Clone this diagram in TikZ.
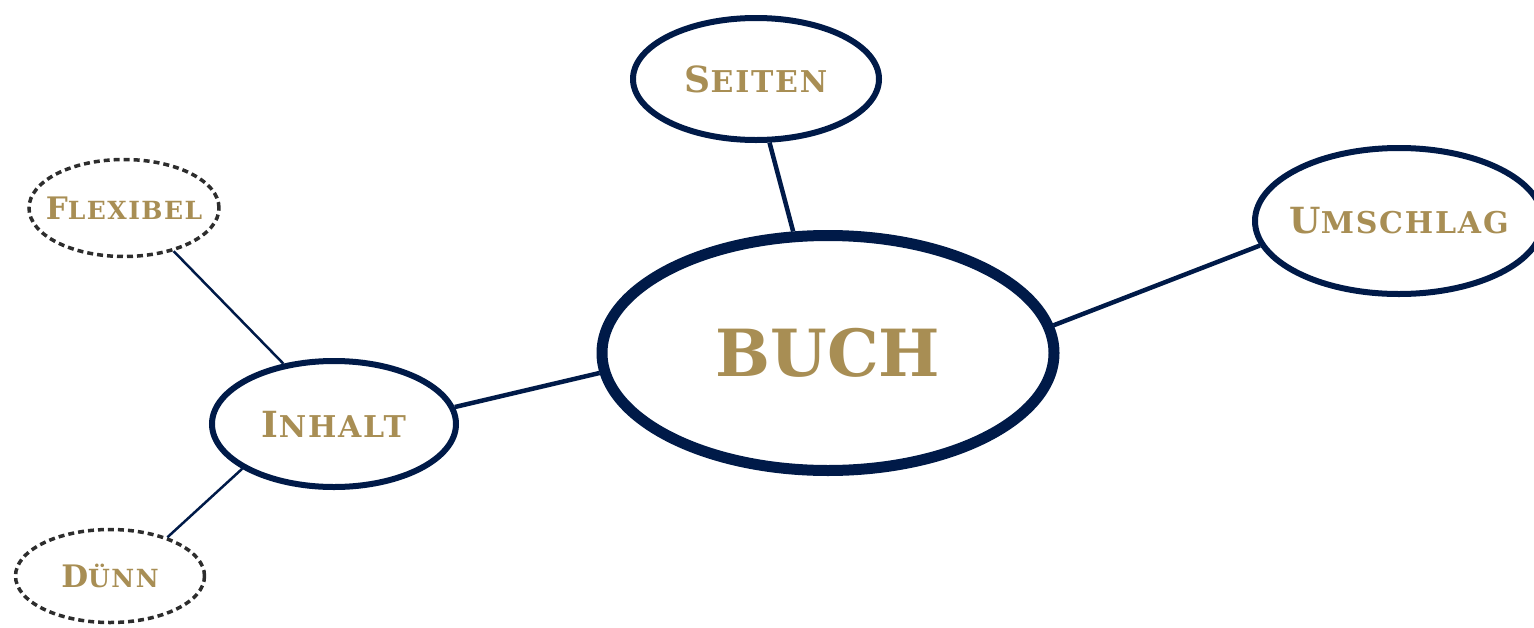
\documentclass[tikz,border=0pt]{standalone}
\usepackage{fontspec}
\usetikzlibrary{shapes.geometric}
\newfontfamily\labelserif{DejaVu Serif Bold}
\newfontfamily\spacedserif{DejaVu Serif Bold}[LetterSpace=6]
\definecolor{navy}{RGB}{0,26,72}
\definecolor{gold}{RGB}{168,142,84}
\definecolor{dashgray}{RGB}{45,45,45}
% first letter at full size, the rest as smaller, slightly spaced capitals
\newcommand\lowcaps{}
% label text takes no width, so each ellipse keeps its own size
\newcommand\nowidth[1]{\makebox[0pt][c]{#1}}
\tikzset{
  hub/.style={ellipse, draw=navy, line width=11pt, inner sep=0pt,
    minimum width=452pt, minimum height=235pt, text=gold,
    font=\labelserif\fontsize{65}{65}\selectfont},
  topic/.style={ellipse, draw=navy, line width=6pt, inner sep=0pt,
    text=gold, font=\labelserif\fontsize{36}{36}\selectfont
      \renewcommand\lowcaps{\spacedserif\fontsize{30}{30}\selectfont}},
  leaf/.style={ellipse, draw=dashgray, line width=3.5pt, inner sep=0pt,
    dash pattern=on 6pt off 4pt, text=gold,
    font=\labelserif\fontsize{31}{31}\selectfont
      \renewcommand\lowcaps{\spacedserif\fontsize{25}{25}\selectfont}},
  trunk/.style={draw=navy, line width=4.5pt},
  twig/.style={draw=navy, line width=2.5pt},
}
\begin{document}
\begin{tikzpicture}[x=1pt,y=-1pt]
\useasboundingbox (0,0) rectangle (1534,627);
\node[hub] (buch) at (828,353) {\nowidth{BUCH}};
\node[topic, minimum width=246pt, minimum height=122pt] (seiten) at (756,79) {\nowidth{S{\lowcaps EITEN}}};
\node[topic, minimum width=288pt, minimum height=146pt] (umschlag) at (1399,221) {\nowidth{U{\lowcaps MSCHLAG}}};
\node[topic, minimum width=244pt, minimum height=126pt] (inhalt) at (334,424) {\nowidth{I{\lowcaps NHALT}}};
\node[leaf, minimum width=190pt, minimum height=97pt] (flexibel) at (124,208) {\nowidth{F{\lowcaps LEXIBEL}}};
\node[leaf, minimum width=189pt, minimum height=93pt] (duenn) at (110,576) {\nowidth{D{\lowcaps ÜNN}}};
\draw[trunk] (seiten.282) -- (buch.106);
\draw[trunk] (buch.7) -- (umschlag.190);
\draw[trunk] (buch.185) -- (inhalt.8);
\draw[twig] (inhalt.130) -- (flexibel.319);
\draw[twig] (inhalt.206) -- (duenn.34);
\end{tikzpicture}
\end{document}
